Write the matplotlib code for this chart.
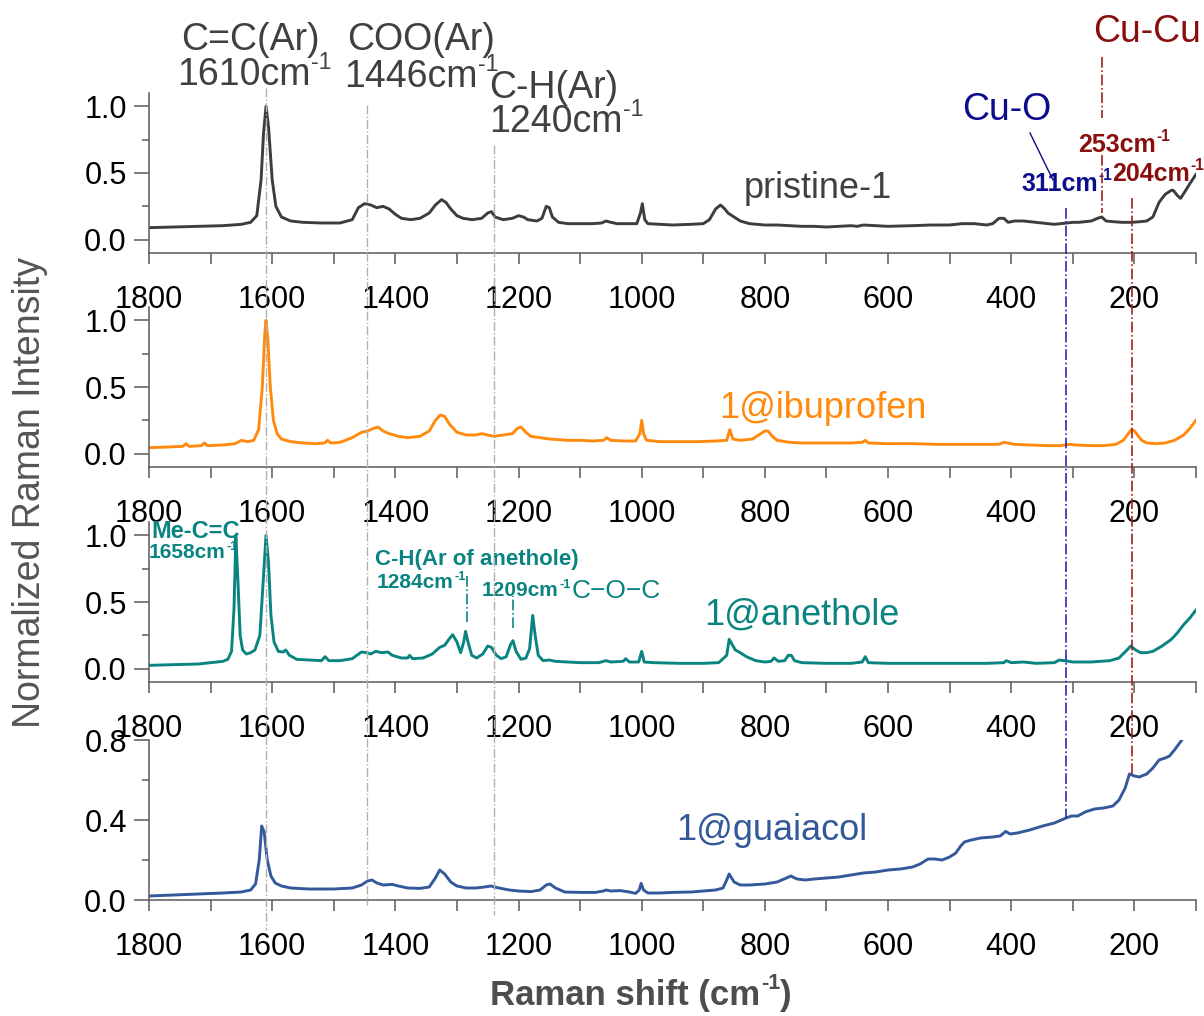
import matplotlib
matplotlib.use('Agg')
import matplotlib.pyplot as plt
from matplotlib.ticker import FixedLocator, FormatStrFormatter
from matplotlib.lines import Line2D
import matplotlib.transforms as mtransforms

plt.rcParams['font.family'] = ['Liberation Sans', 'DejaVu Sans']

# ---------------- data ----------------
pristine_x = [1800, 1760, 1720, 1680, 1650, 1635, 1625, 1618, 1614, 1610, 1606, 1600, 1594, 1585, 1570,
              1550, 1520, 1490, 1470, 1460, 1450, 1440, 1430, 1420, 1410, 1400, 1390, 1375, 1360, 1345,
              1335, 1325, 1318, 1310, 1300, 1290, 1275, 1260, 1250, 1244, 1238, 1225, 1210, 1200, 1192,
              1185, 1170, 1162, 1155, 1150, 1145, 1135, 1120, 1100, 1080, 1065, 1058, 1050, 1040, 1020,
              1008, 1002, 999, 995, 990, 970, 950, 920, 900, 890, 880, 872, 865, 860, 850, 840, 825, 800,
              780, 760, 740, 720, 700, 680, 660, 650, 640, 600, 560, 530, 500, 480, 470, 460, 440, 430,
              420, 412, 405, 395, 380, 360, 340, 330, 320, 300, 290, 270, 260, 253, 246, 235, 220, 204,
              190, 180, 170, 160, 150, 140, 137, 130, 125, 118, 110, 100]
pristine_y = [0.09, 0.095, 0.10, 0.105, 0.115, 0.13, 0.18, 0.45, 0.80, 1.00, 0.85, 0.45, 0.25, 0.17, 0.14,
              0.13, 0.125, 0.125, 0.15, 0.24, 0.27, 0.26, 0.24, 0.25, 0.23, 0.19, 0.16, 0.15, 0.16, 0.20,
              0.26, 0.30, 0.28, 0.23, 0.18, 0.16, 0.15, 0.16, 0.20, 0.21, 0.17, 0.15, 0.16, 0.18, 0.17,
              0.15, 0.14, 0.16, 0.25, 0.24, 0.17, 0.13, 0.12, 0.12, 0.12, 0.125, 0.14, 0.13, 0.12, 0.12,
              0.12, 0.20, 0.27, 0.15, 0.12, 0.115, 0.11, 0.115, 0.12, 0.15, 0.23, 0.26, 0.23, 0.20, 0.17,
              0.14, 0.12, 0.11, 0.11, 0.105, 0.10, 0.10, 0.095, 0.10, 0.105, 0.10, 0.11, 0.10, 0.105,
              0.11, 0.11, 0.12, 0.12, 0.12, 0.11, 0.12, 0.16, 0.16, 0.13, 0.14, 0.14, 0.13, 0.12, 0.115,
              0.12, 0.13, 0.13, 0.14, 0.16, 0.17, 0.14, 0.135, 0.13, 0.13, 0.135, 0.14, 0.17, 0.28, 0.34,
              0.37, 0.37, 0.33, 0.31, 0.36, 0.42, 0.49]

ibuprofen_x = [1800, 1770, 1745, 1740, 1735, 1715, 1710, 1705, 1680, 1660, 1650, 1640, 1630, 1622, 1616,
               1612, 1610, 1607, 1603, 1598, 1592, 1585, 1570, 1550, 1530, 1515, 1510, 1505, 1490, 1470,
               1455, 1445, 1435, 1428, 1420, 1410, 1395, 1380, 1360, 1345, 1335, 1327, 1320, 1312, 1300,
               1285, 1270, 1260, 1250, 1240, 1225, 1210, 1202, 1196, 1188, 1180, 1165, 1150, 1120, 1100,
               1080, 1062, 1057, 1050, 1030, 1010, 1003, 1000, 997, 992, 970, 940, 910, 880, 862, 857,
               852, 840, 820, 810, 800, 795, 788, 780, 760, 740, 700, 660, 642, 637, 632, 600, 560, 520,
               480, 450, 420, 412, 405, 395, 370, 340, 320, 305, 295, 270, 250, 230, 218, 210, 205, 200,
               195, 188, 180, 165, 150, 135, 120, 110, 100]
ibuprofen_y = [0.045, 0.05, 0.055, 0.075, 0.055, 0.06, 0.08, 0.06, 0.065, 0.075, 0.10, 0.09, 0.10, 0.18,
               0.50, 0.90, 1.00, 0.85, 0.50, 0.25, 0.15, 0.11, 0.09, 0.08, 0.075, 0.08, 0.10, 0.08, 0.085,
               0.12, 0.16, 0.17, 0.19, 0.20, 0.17, 0.15, 0.13, 0.12, 0.13, 0.17, 0.25, 0.29, 0.28, 0.22,
               0.16, 0.14, 0.14, 0.15, 0.14, 0.13, 0.14, 0.15, 0.19, 0.20, 0.16, 0.13, 0.12, 0.11, 0.10,
               0.10, 0.095, 0.10, 0.12, 0.10, 0.095, 0.095, 0.15, 0.25, 0.15, 0.10, 0.09, 0.09, 0.09,
               0.095, 0.10, 0.18, 0.11, 0.10, 0.11, 0.14, 0.17, 0.17, 0.13, 0.10, 0.085, 0.08, 0.08, 0.08,
               0.085, 0.10, 0.08, 0.075, 0.075, 0.07, 0.07, 0.07, 0.07, 0.085, 0.08, 0.07, 0.065, 0.06,
               0.06, 0.07, 0.065, 0.06, 0.06, 0.07, 0.10, 0.15, 0.18, 0.17, 0.14, 0.10, 0.08, 0.075, 0.08,
               0.10, 0.14, 0.19, 0.25]

anethole_x = [1800, 1760, 1720, 1700, 1690, 1680, 1672, 1666, 1662, 1659, 1656, 1652, 1648, 1642, 1635,
              1628, 1620, 1614, 1610, 1606, 1602, 1597, 1590, 1582, 1578, 1572, 1560, 1540, 1520, 1514,
              1508, 1490, 1470, 1455, 1447, 1440, 1432, 1422, 1412, 1405, 1390, 1380, 1377, 1372, 1355,
              1340, 1328, 1320, 1313, 1307, 1300, 1294, 1289, 1286, 1282, 1276, 1268, 1258, 1250, 1244,
              1236, 1228, 1220, 1213, 1209, 1204, 1196, 1188, 1182, 1177, 1173, 1168, 1160, 1150, 1140,
              1120, 1100, 1070, 1058, 1050, 1030, 1026, 1020, 1005, 1000, 996, 980, 940, 900, 875, 862,
              858, 853, 848, 840, 830, 815, 800, 790, 785, 778, 768, 762, 757, 752, 740, 700, 660, 642,
              637, 632, 600, 560, 520, 480, 440, 412, 408, 400, 380, 360, 330, 322, 315, 300, 270, 240,
              225, 212, 206, 198, 190, 180, 170, 155, 140, 130, 120, 110, 100]
anethole_y = [0.025, 0.03, 0.035, 0.045, 0.05, 0.055, 0.07, 0.13, 0.45, 0.99, 0.70, 0.25, 0.14, 0.11,
              0.12, 0.14, 0.25, 0.70, 1.00, 0.80, 0.40, 0.20, 0.13, 0.125, 0.14, 0.10, 0.07, 0.065, 0.06,
              0.09, 0.06, 0.06, 0.075, 0.125, 0.12, 0.11, 0.13, 0.12, 0.125, 0.10, 0.08, 0.08, 0.10,
              0.075, 0.08, 0.11, 0.16, 0.175, 0.22, 0.255, 0.20, 0.12, 0.20, 0.28, 0.20, 0.10, 0.08, 0.11,
              0.17, 0.16, 0.10, 0.075, 0.09, 0.18, 0.21, 0.13, 0.07, 0.08, 0.15, 0.40, 0.25, 0.10, 0.06,
              0.065, 0.055, 0.05, 0.045, 0.045, 0.06, 0.05, 0.055, 0.075, 0.05, 0.05, 0.13, 0.05, 0.045,
              0.04, 0.04, 0.045, 0.10, 0.22, 0.18, 0.14, 0.12, 0.09, 0.06, 0.05, 0.055, 0.08, 0.055,
              0.06, 0.10, 0.10, 0.06, 0.045, 0.04, 0.04, 0.05, 0.09, 0.045, 0.04, 0.04, 0.04, 0.04, 0.04,
              0.045, 0.06, 0.045, 0.05, 0.04, 0.045, 0.065, 0.06, 0.05, 0.05, 0.06, 0.08, 0.14, 0.17,
              0.14, 0.12, 0.12, 0.13, 0.17, 0.22, 0.27, 0.33, 0.38, 0.44]

guaiacol_x = [1800, 1760, 1720, 1680, 1650, 1635, 1627, 1621, 1617, 1613, 1608, 1602, 1595, 1585, 1570,
              1540, 1500, 1470, 1455, 1445, 1438, 1430, 1420, 1405, 1395, 1380, 1360, 1345, 1335, 1328,
              1320, 1310, 1300, 1285, 1270, 1255, 1245, 1235, 1215, 1200, 1180, 1165, 1155, 1149, 1140,
              1125, 1100, 1075, 1062, 1058, 1050, 1035, 1020, 1010, 1004, 1001, 997, 990, 970, 950, 920,
              900, 880, 868, 862, 858, 850, 840, 825, 800, 780, 765, 758, 748, 735, 720, 700, 680, 660,
              640, 620, 600, 580, 560, 548, 535, 525, 512, 500, 490, 482, 476, 465, 450, 430, 418, 409,
              402, 390, 370, 349, 330, 311, 302, 292, 280, 265, 250, 235, 225, 215, 208, 200, 192, 180,
              170, 160, 150, 143, 135, 123]
guaiacol_y = [0.02, 0.025, 0.03, 0.035, 0.04, 0.05, 0.08, 0.20, 0.37, 0.34, 0.20, 0.12, 0.085, 0.07, 0.06,
              0.055, 0.055, 0.06, 0.075, 0.095, 0.10, 0.085, 0.075, 0.078, 0.07, 0.06, 0.058, 0.065, 0.11,
              0.15, 0.13, 0.09, 0.07, 0.06, 0.06, 0.065, 0.07, 0.062, 0.05, 0.045, 0.042, 0.05, 0.075,
              0.08, 0.06, 0.04, 0.038, 0.038, 0.045, 0.05, 0.045, 0.047, 0.04, 0.033, 0.05, 0.083, 0.05,
              0.035, 0.035, 0.038, 0.04, 0.045, 0.05, 0.06, 0.10, 0.13, 0.09, 0.075, 0.075, 0.08, 0.09,
              0.11, 0.12, 0.105, 0.10, 0.105, 0.11, 0.115, 0.125, 0.135, 0.14, 0.15, 0.155, 0.165, 0.18,
              0.205, 0.205, 0.20, 0.215, 0.235, 0.27, 0.29, 0.30, 0.31, 0.315, 0.32, 0.343, 0.33, 0.335,
              0.35, 0.37, 0.385, 0.41, 0.42, 0.42, 0.44, 0.455, 0.46, 0.47, 0.50, 0.56, 0.63, 0.62, 0.615,
              0.63, 0.66, 0.70, 0.71, 0.72, 0.75, 0.80]

x_major = [1800, 1600, 1400, 1200, 1000, 800, 600, 400, 200]
x_minor = [1700, 1500, 1300, 1100, 900, 700, 500, 300, 100]

# ---------------- styling ----------------
W, H = 1204, 1016
fig = plt.figure(figsize=(W / 100, H / 100), dpi=100)
renderer = fig.canvas.get_renderer()

c_text = '#404040'
c_pristine = '#3d3d3d'
c_ibu = '#ff8a0d'
c_ane = '#0a8480'
c_gua = '#33599a'
c_cuo = '#0c0c8c'
c_cucu = '#8a0e0e'
c_spine = '#5a5a5a'

LEFT, RIGHT = 149, 1196


def rect(top, bottom):
    return [LEFT / W, 1 - bottom / H, (RIGHT - LEFT) / W, (bottom - top) / H]


panels = [
    dict(x=pristine_x, y=pristine_y, c=c_pristine, ylim=(-0.1, 1.1), yt=[0.0, 0.5, 1.0],
         ym=[0.25, 0.75], top=93, bottom=253),
    dict(x=ibuprofen_x, y=ibuprofen_y, c=c_ibu, ylim=(-0.1, 1.1), yt=[0.0, 0.5, 1.0],
         ym=[0.25, 0.75], top=307, bottom=467),
    dict(x=anethole_x, y=anethole_y, c=c_ane, ylim=(-0.1, 1.1), yt=[0.0, 0.5, 1.0],
         ym=[0.25, 0.75], top=522, bottom=682),
    dict(x=guaiacol_x, y=guaiacol_y, c=c_gua, ylim=(0.0, 0.8), yt=[0.0, 0.4, 0.8],
         ym=[0.2, 0.6], top=740, bottom=900),
]

axes = []
for p in panels:
    ax = fig.add_axes(rect(p['top'], p['bottom']))
    ax.plot(p['x'], p['y'], color=p['c'], lw=2.1, solid_joinstyle='round')
    ax.set_xlim(1800, 100)
    ax.set_ylim(*p['ylim'])
    ax.xaxis.set_major_locator(FixedLocator(x_major))
    ax.xaxis.set_minor_locator(FixedLocator(x_minor))
    ax.yaxis.set_major_locator(FixedLocator(p['yt']))
    ax.yaxis.set_minor_locator(FixedLocator(p['ym']))
    ax.yaxis.set_major_formatter(FormatStrFormatter('%.1f'))
    for s in ('top', 'right'):
        ax.spines[s].set_visible(False)
    for s in ('left', 'bottom'):
        ax.spines[s].set_color(c_spine)
        ax.spines[s].set_linewidth(1.1)
    ax.tick_params(axis='x', which='both', direction='out', length=8, width=1.1, color=c_spine,
                   labelsize=22, pad=15)
    ax.tick_params(axis='y', which='major', direction='out', length=11, width=1.1, color=c_spine,
                   labelsize=22, pad=5)
    ax.tick_params(axis='y', which='minor', direction='out', length=5, width=1.1, color=c_spine)
    ax.patch.set_alpha(0)
    axes.append(ax)

ax1, ax2, ax3, ax4 = axes


def fy(px):
    return 1 - px / H


def fx(px):
    return px / W


def val_to_fig(p, v):
    lo, hi = p['ylim']
    return fy(p['bottom']) + (v - lo) / (hi - lo) * (p['bottom'] - p['top']) / H


blend = mtransforms.blended_transform_factory(ax1.transData, fig.transFigure)

# gray reference lines through all panels
for xv, ytop, ybot in [(1610, 88, 930), (1446, 105, 905), (1240, 145, 915)]:
    fig.add_artist(Line2D([xv, xv], [fy(ytop), fy(ybot)], transform=blend, color='#b0b0b0',
                          lw=1.0, ls='-.', zorder=5))

# Cu-O line (311) down to guaiacol curve
fig.add_artist(Line2D([311, 311], [fy(208), val_to_fig(panels[3], 0.41)], transform=blend,
                      color='#2a2ab0', lw=1.2, ls='-.', zorder=5))
# Cu-Cu 204 line
fig.add_artist(Line2D([204, 204], [fy(198), val_to_fig(panels[3], 0.63)], transform=blend,
                      color='#a02020', lw=1.2, ls='-.', zorder=5))
# Cu-Cu 253 segments
fig.add_artist(Line2D([253, 253], [fy(57), fy(118)], transform=blend, color='#a02020', lw=1.2,
                      ls='-.', zorder=5))
fig.add_artist(Line2D([253, 253], [fy(155), fy(213)], transform=blend, color='#a02020', lw=1.2,
                      ls='-.', zorder=5))
# slanted leader for Cu-O
fig.add_artist(Line2D([fx(1030), fx(1053)], [fy(133), fy(180)], color=c_cuo, lw=1.0, zorder=5))

# anethole marker lines
ax3.plot([1284, 1284], [0.35, 0.71], color=c_ane, lw=1.2, ls='-.')
ax3.plot([1209, 1209], [0.305, 0.545], color=c_ane, lw=1.2, ls='-.')


def t(xpx, ypx, s, **kw):
    kw.setdefault('va', 'center')
    kw.setdefault('ha', 'left')
    return fig.text(fx(xpx), fy(ypx), s, **kw)


def t_sup(xpx, ypx, base, sup, size, color, weight='normal', scale=0.62, tail='', rise=0.16):
    """base text followed by a raised superscript (and optional trailing text)."""
    a = t(xpx, ypx, base, fontsize=size, color=color, fontweight=weight)
    bb = a.get_window_extent(renderer)
    b = fig.text((bb.x1 + 0.5) / W, (bb.y1 - rise * bb.height) / H, sup, fontsize=size * scale,
                 color=color, fontweight=weight, ha='left', va='center')
    if tail:
        bb2 = b.get_window_extent(renderer)
        fig.text((bb2.x1 + 0.5) / W, (bb.y0 + bb.y1) / 2 / H, tail, fontsize=size, color=color,
                 fontweight=weight, ha='left', va='center')


# top annotations
t(181, 40, 'C=C(Ar)', fontsize=27, color=c_text)
t_sup(177, 75, '1610cm', '-1', 27, c_text)
t(347, 40, 'COO(Ar)', fontsize=27, color=c_text)
t_sup(344, 77, '1446cm', '-1', 27, c_text)
t(489, 88, 'C-H(Ar)', fontsize=27, color=c_text)
t_sup(489, 122, '1240cm', '-1', 27, c_text)

t(962, 110, 'Cu-O', fontsize=27, color=c_cuo)
t_sup(1021, 184, '311cm', '-1', 18, c_cuo, weight='bold')
t(1093, 32, 'Cu-Cu', fontsize=27, color=c_cucu)
t_sup(1078, 145, '253cm', '-1', 18, c_cucu, weight='bold')
t_sup(1112, 174, '204cm', '-1', 18, c_cucu, weight='bold')

t(744, 188, 'pristine-1', fontsize=26, color=c_text)
t(719, 408, '1@ibuprofen', fontsize=26, color=c_ibu)
t(704, 615, '1@anethole', fontsize=26, color=c_ane)
t(676, 830, '1@guaiacol', fontsize=26, color=c_gua)

# anethole annotations
t(151, 531, 'Me-C=C', fontsize=17, color=c_ane, fontweight='bold')
t_sup(149, 553, '1658cm', '-1', 15, c_ane, weight='bold')
t(375, 560, 'C-H(Ar of anethole)', fontsize=16, color=c_ane, fontweight='bold')
t_sup(377, 583, '1284cm', '-1', 15, c_ane, weight='bold')
t_sup(482, 591, '1209cm', '-1', 15, c_ane, weight='bold')
t(572, 591, 'C\u2212O\u2212C', fontsize=19, color=c_ane)

# axis labels
t(30, 493, 'Normalized Raman Intensity', fontsize=27, color='#555555', rotation=90, ha='center')
t_sup(490, 995, 'Raman shift (cm', '-1', 25, '#4d4d4d', weight='bold', tail=')')

fig.savefig('out.png', dpi=100)
